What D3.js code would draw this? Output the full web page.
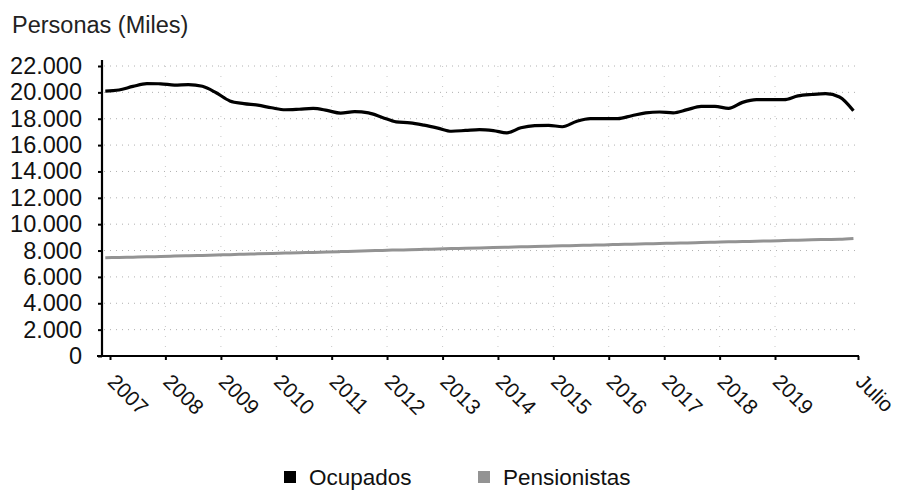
<!DOCTYPE html>
<html>
<head>
<meta charset="utf-8">
<script src="https://cdn.jsdelivr.net/npm/d3@7"></script>
<style>
  html, body { margin: 0; padding: 0; background: #fff; }
  svg { display: block; font-family: "Liberation Sans", Arial, sans-serif; }
</style>
</head>
<body>
<svg id="chart" width="897" height="492"></svg>
<script>
// ---- DATA ----
const title = "Personas (Miles)";
const seriesNames = ["Ocupados", "Pensionistas"];
const seriesColors = ["#000000", "#939393"];
// quarterly observations, Dec 2006 .. Jun 2020
const periods = d3.timeMonth.range(new Date(2006, 11, 1), new Date(2020, 6, 1), 3);
const ocupados = [
  20100, 20180, 20450, 20660, 20650, 20550, 20590, 20460, 19970, 19350,
  19150, 19030, 18830, 18680, 18720, 18780, 18630, 18420, 18540, 18440,
  18100, 17760, 17690, 17510, 17290, 17050, 17110, 17180, 17100, 16930,
  17310, 17480, 17500, 17390, 17790, 18010, 18010, 18010, 18230, 18440,
  18510, 18450, 18690, 18930, 18940, 18780, 19240, 19450, 19450, 19450,
  19730, 19840, 19900, 19650, 18600
];
const pensionistas = [
  7450, 7480, 7500, 7520, 7550, 7580, 7600, 7630, 7660, 7690,
  7720, 7750, 7780, 7810, 7840, 7860, 7890, 7920, 7950, 7980,
  8010, 8040, 8060, 8090, 8120, 8150, 8170, 8200, 8230, 8250,
  8280, 8300, 8330, 8360, 8380, 8410, 8430, 8460, 8480, 8510,
  8530, 8560, 8580, 8610, 8630, 8660, 8680, 8710, 8730, 8760,
  8790, 8810, 8840, 8860, 8920
];
const xTickDates = [
  new Date(2007,0,1), new Date(2008,0,1), new Date(2009,0,1), new Date(2010,0,1),
  new Date(2011,0,1), new Date(2012,0,1), new Date(2013,0,1), new Date(2014,0,1),
  new Date(2015,0,1), new Date(2016,0,1), new Date(2017,0,1), new Date(2018,0,1),
  new Date(2019,0,1), new Date(2020,6,1)
];
const xTickLabels = ["2007","2008","2009","2010","2011","2012","2013","2014",
                     "2015","2016","2017","2018","2019","Julio"];
const yTicks = [0, 2000, 4000, 6000, 8000, 10000, 12000, 14000, 16000, 18000, 20000, 22000];

// ---- LAYOUT ----
const svg = d3.select("#chart");
const yAxisX = 102, xAxisY = 356;
const x = d3.scaleTime()
  .domain([new Date(2007,0,1), new Date(2020,6,1)])
  .range([110, 858]);
const y = d3.scaleLinear().domain([0, 22000]).range([xAxisY, 66]);
const esLocale = d3.formatLocale({decimal: ",", thousands: ".", grouping: [3], currency: ["", "€"]});
const fmt = esLocale.format(",d");

// title
svg.append("text").attr("x", 12).attr("y", 33)
  .attr("font-size", 23.5).attr("fill", "#222").text(title);

// grid
const grid = svg.append("g");
grid.selectAll("line.h").data(yTicks.filter(d => d > 0)).join("line")
  .attr("x1", yAxisX + 2).attr("x2", 858)
  .attr("y1", d => y(d)).attr("y2", d => y(d))
  .attr("stroke", "#b0b0b0").attr("stroke-width", 1).attr("stroke-dasharray", "1,5");
grid.selectAll("line.v").data(xTickDates.slice(1, 13)).join("line")
  .attr("x1", d => x(d)).attr("x2", d => x(d))
  .attr("y1", y(22000)).attr("y2", xAxisY)
  .attr("stroke", "#c8c8c8").attr("stroke-width", 1).attr("stroke-dasharray", "1,9");

// y axis
const yAxis = d3.axisLeft(y).tickValues(yTicks).tickFormat(fmt).tickSize(4).tickPadding(16).tickSizeOuter(0);
const gy = svg.append("g").attr("transform", `translate(${yAxisX},0)`).call(yAxis);
gy.select(".domain").attr("stroke", "#000").attr("stroke-width", 2.2)
  .attr("d", `M0,${xAxisY}V60`);
gy.selectAll(".tick line").attr("stroke", "#000").attr("stroke-width", 2);
gy.selectAll(".tick text").attr("font-size", 23.5).attr("fill", "#111")
  .attr("font-family", "Liberation Sans, Arial, sans-serif");

// x axis
const xAxis = d3.axisBottom(x).tickValues(xTickDates).tickFormat((d, i) => xTickLabels[i])
  .tickSize(4).tickSizeOuter(0);
const gx = svg.append("g").attr("transform", `translate(0,${xAxisY})`).call(xAxis);
gx.select(".domain").attr("stroke", "#000").attr("stroke-width", 2.2)
  .attr("d", `M97,0H859`);
gx.selectAll(".tick line").attr("stroke", "#000").attr("stroke-width", 2);
gx.selectAll(".tick text")
  .attr("font-size", 21).attr("fill", "#111")
  .attr("font-family", "Liberation Sans, Arial, sans-serif")
  .attr("text-anchor", "start").attr("dy", null).attr("y", null)
  .attr("transform", "translate(-4,27) rotate(45)");

// lines
const line = vals => d3.line()
  .x((d, i) => x(periods[i]))
  .y(d => y(d))
  .curve(d3.curveMonotoneX)(vals);
svg.append("path").attr("d", line(pensionistas))
  .attr("fill", "none").attr("stroke", seriesColors[1]).attr("stroke-width", 3);
svg.append("path").attr("d", line(ocupados))
  .attr("fill", "none").attr("stroke", seriesColors[0]).attr("stroke-width", 3.2)
  .attr("stroke-linejoin", "round");

// legend
const legendX = [284, 478];
const lg = svg.append("g");
seriesNames.forEach((name, i) => {
  lg.append("rect").attr("x", legendX[i]).attr("y", 471).attr("width", 12).attr("height", 12)
    .attr("fill", seriesColors[i]);
  lg.append("text").attr("x", legendX[i] + 25).attr("y", 485)
    .attr("font-size", 22.5).attr("fill", "#111").text(name);
});
</script>
</body>
</html>
